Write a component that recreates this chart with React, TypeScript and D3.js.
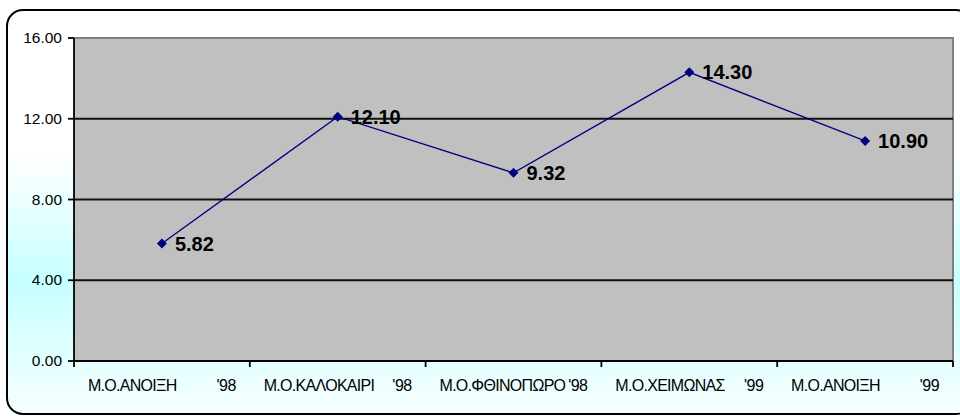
import React from "react";
import * as d3 from "d3";

const categoryNames = ["Μ.Ο.ΑΝΟΙΞΗ", "Μ.Ο.ΚΑΛΟΚΑΙΡΙ", "Μ.Ο.ΦΘΙΝΟΠΩΡΟ", "Μ.Ο.ΧΕΙΜΩΝΑΣ", "Μ.Ο.ΑΝΟΙΞΗ"];
const categoryYears = ["'98", "'98", "'98", "'99", "'99"];
const values = [5.82, 12.1, 9.32, 14.3, 10.9];
const yTicks = [0, 4, 8, 12, 16];

const W = 960;
const H = 416;
const plot = { left: 74, right: 953, top: 38, bottom: 361 };

export default function App() {
  const x = d3
    .scaleBand<number>()
    .domain(values.map((_, i) => i))
    .range([plot.left, plot.right])
    .paddingInner(0)
    .paddingOuter(0);
  const y = d3.scaleLinear().domain([0, 16]).range([plot.bottom, plot.top]);
  const cx = (i: number) => (x(i) as number) + x.bandwidth() / 2;

  const line = d3
    .line<number>()
    .x((_, i) => cx(i))
    .y((d) => y(d));

  const boundaries = d3.range(values.length + 1).map((i) => plot.left + i * x.bandwidth());
  const half = 74;

  return (
    <svg
      width={W}
      height={H}
      style={{ position: "absolute", left: 0, top: 0, display: "block" }}
      fontFamily="Arial, 'Liberation Sans', sans-serif"
    >
      <defs>
        <linearGradient id="bg" x1="0" y1="0" x2="0" y2="1">
          <stop offset="0" stopColor="#ffffff" />
          <stop offset="0.36" stopColor="#ffffff" />
          <stop offset="0.67" stopColor="#c6ffff" />
          <stop offset="1" stopColor="#f8ffff" />
        </linearGradient>
      </defs>
      <rect x={7} y={10} width={965} height={404} rx={16} ry={16} fill="url(#bg)" stroke="#000" strokeWidth={2} />

      {/* plot area */}
      <rect
        x={plot.left}
        y={plot.top}
        width={plot.right - plot.left}
        height={plot.bottom - plot.top}
        fill="#c0c0c0"
      />
      <path
        d={`M${plot.left},${plot.top}H${plot.right}V${plot.bottom}`}
        fill="none"
        stroke="#808080"
        strokeWidth={2}
      />

      {/* gridlines */}
      {yTicks.slice(1, -1).map((t) => (
        <line key={t} x1={plot.left} x2={plot.right} y1={y(t)} y2={y(t)} stroke="#111" strokeWidth={1.8} />
      ))}

      {/* y axis */}
      <line x1={plot.left} x2={plot.left} y1={plot.top} y2={plot.bottom} stroke="#000" strokeWidth={1.8} />
      {yTicks.map((t) => (
        <g key={t}>
          <line x1={plot.left - 6} x2={plot.left} y1={y(t)} y2={y(t)} stroke="#000" strokeWidth={1.8} />
          <text x={62} y={y(t) + 5} textAnchor="end" fontSize={15.5} fill="#000">
            {t.toFixed(2)}
          </text>
        </g>
      ))}

      {/* x axis */}
      <line x1={plot.left} x2={plot.right} y1={plot.bottom} y2={plot.bottom} stroke="#000" strokeWidth={1.8} />
      {boundaries.map((b, i) => (
        <line key={i} x1={b} x2={b} y1={plot.bottom} y2={plot.bottom + 6} stroke="#000" strokeWidth={1.8} />
      ))}
      {categoryNames.map((n, i) => (
        <g key={i} fontSize={16} fill="#000">
          <text x={cx(i) - half} y={391} textAnchor="start" letterSpacing={-0.7}>
            {n}
          </text>
          <text x={cx(i) + half} y={391} textAnchor="end" letterSpacing={-0.5}>
            {categoryYears[i]}
          </text>
        </g>
      ))}

      {/* series */}
      <path d={line(values) || ""} fill="none" stroke="#000080" strokeWidth={1.3} />
      {values.map((v, i) => (
        <g key={i}>
          <path
            d={`M${cx(i)},${y(v) - 5}L${cx(i) + 5},${y(v)}L${cx(i)},${y(v) + 5}L${cx(i) - 5},${y(v)}Z`}
            fill="#000080"
          />
          <text x={cx(i) + 13} y={y(v) + 7} fontSize={20} fontWeight="bold" fill="#000">
            {v.toFixed(2)}
          </text>
        </g>
      ))}
    </svg>
  );
}
